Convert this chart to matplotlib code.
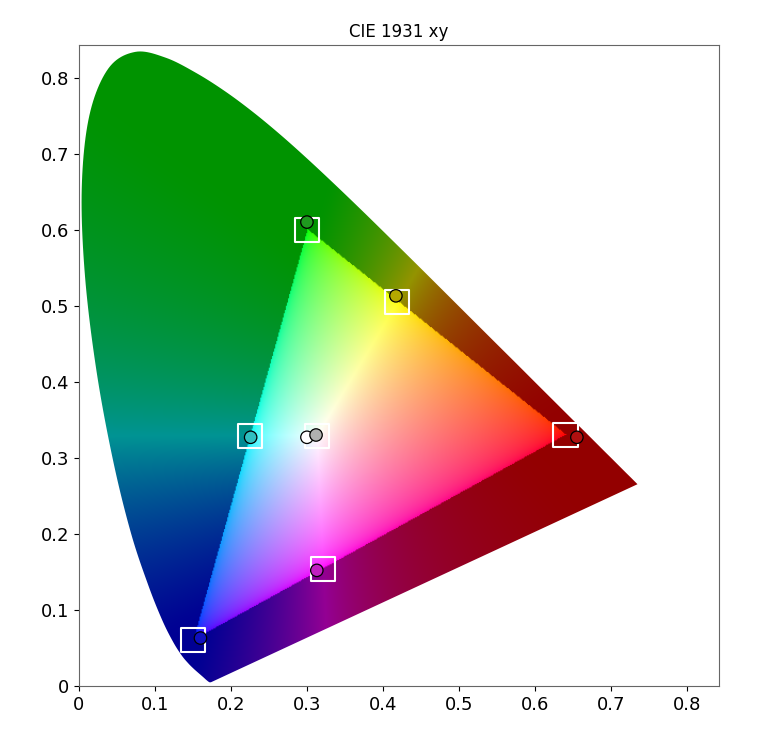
import numpy as np
import matplotlib
matplotlib.use("Agg")
import matplotlib.pyplot as plt
from matplotlib.patches import Polygon

locus_x = [0.1741,0.1740,0.1738,0.1736,0.1733,0.1730,0.1726,0.1721,0.1714,0.1703,0.1689,0.1669,0.1644,0.1611,0.1566,0.1510,0.1440,0.1355,0.1241,0.1096,0.0913,0.0687,0.0454,0.0235,0.0082,0.0039,0.0139,0.0389,0.0743,0.1142,0.1547,0.1929,0.2296,0.2658,0.3016,0.3373,0.3731,0.4087,0.4441,0.4788,0.5125,0.5448,0.5752,0.6029,0.6270,0.6482,0.6658,0.6801,0.6915,0.7006,0.7079,0.7140,0.7190,0.7260,0.7300,0.7334,0.7347]
locus_y = [0.0050,0.0050,0.0049,0.0049,0.0048,0.0048,0.0048,0.0048,0.0051,0.0058,0.0069,0.0086,0.0109,0.0138,0.0177,0.0227,0.0297,0.0399,0.0578,0.0868,0.1327,0.2007,0.2950,0.4127,0.5384,0.6548,0.7502,0.8120,0.8338,0.8262,0.8059,0.7816,0.7543,0.7243,0.6923,0.6589,0.6245,0.5896,0.5547,0.5202,0.4866,0.4544,0.4242,0.3965,0.3725,0.3514,0.3340,0.3197,0.3083,0.2993,0.2920,0.2859,0.2809,0.2740,0.2700,0.2666,0.2653]

target_x = [0.30, 0.419, 0.64, 0.225, 0.3127, 0.321, 0.15]
target_y = [0.60, 0.505, 0.33, 0.329, 0.329, 0.154, 0.06]
meas_x = [0.300, 0.417, 0.655, 0.226, 0.300, 0.312, 0.313, 0.160]
meas_y = [0.610, 0.513, 0.327, 0.327, 0.327, 0.330, 0.152, 0.063]
meas_c = ['#1f9a1f', '#b5a800', '#b01010', '#30c0c0', '#ffffff', '#b0b0b0', '#c020c0', '#1010c0']

fig = plt.figure(figsize=(7.57, 7.36), dpi=100)
ax = fig.add_axes([0.086, 0.068, 0.882, 0.871])
xmax, ymax = 0.842, 0.843

# colour field
n = 600
gx, gy = np.meshgrid(np.linspace(0.001, xmax, n), np.linspace(0.001, ymax, n))
X = gx / gy; Y = np.ones_like(gx); Z = (1 - gx - gy) / gy
M = np.array([[3.2406, -1.5372, -0.4986], [-0.9689, 1.8758, 0.0415], [0.0557, -0.2040, 1.0570]])
rgb = np.stack([M[i, 0]*X + M[i, 1]*Y + M[i, 2]*Z for i in range(3)], axis=-1)
outside = (rgb < 0).any(axis=-1)
rgb = np.clip(rgb, 0, None)
rgb = rgb / rgb.max(axis=-1, keepdims=True).clip(1e-6)
rgb[outside] = rgb[outside] ** 2.5
rgb = np.where(rgb <= 0.0031308, 12.92*rgb, 1.055*np.power(rgb, 1/2.4) - 0.055)
rgb[outside] *= 0.58
rgb = np.clip(rgb, 0, 1)
im = ax.imshow(rgb, origin='lower', extent=[0.001, xmax, 0.001, ymax], interpolation='bilinear', zorder=1)

# smooth outline (Catmull-Rom through the locus points)
P = np.column_stack([locus_x, locus_y])
Pp = np.vstack([P[0], P, P[-1]])
pts = []
for i in range(1, len(Pp) - 2):
    p0, p1, p2, p3 = Pp[i-1], Pp[i], Pp[i+1], Pp[i+2]
    for t in np.linspace(0, 1, 12, endpoint=False):
        pts.append(0.5*((2*p1) + (-p0+p2)*t + (2*p0-5*p1+4*p2-p3)*t**2 + (-p0+3*p1-3*p2+p3)*t**3))
pts.append(P[-1])
poly = Polygon(pts, closed=True, transform=ax.transData, facecolor='none', edgecolor='none')
ax.add_patch(poly)
im.set_clip_path(poly)

ax.scatter(target_x, target_y, marker='s', s=300, facecolors='none', edgecolors='white', linewidths=1.5, zorder=3)
ax.scatter(meas_x, meas_y, marker='o', s=80, c=meas_c, edgecolors='black', linewidths=0.9, zorder=4)

ax.set_xlim(0, xmax); ax.set_ylim(0, ymax)
ticks = [0, 0.1, 0.2, 0.3, 0.4, 0.5, 0.6, 0.7, 0.8]
labels = ['0', '0.1', '0.2', '0.3', '0.4', '0.5', '0.6', '0.7', '0.8']
ax.set_xticks(ticks, labels, fontsize=13)
ax.set_yticks(ticks, labels, fontsize=13)
for s in ax.spines.values():
    s.set_color('#666666')
ax.set_title('CIE 1931 xy', fontsize=12)
fig.savefig('out.png', dpi=100)
